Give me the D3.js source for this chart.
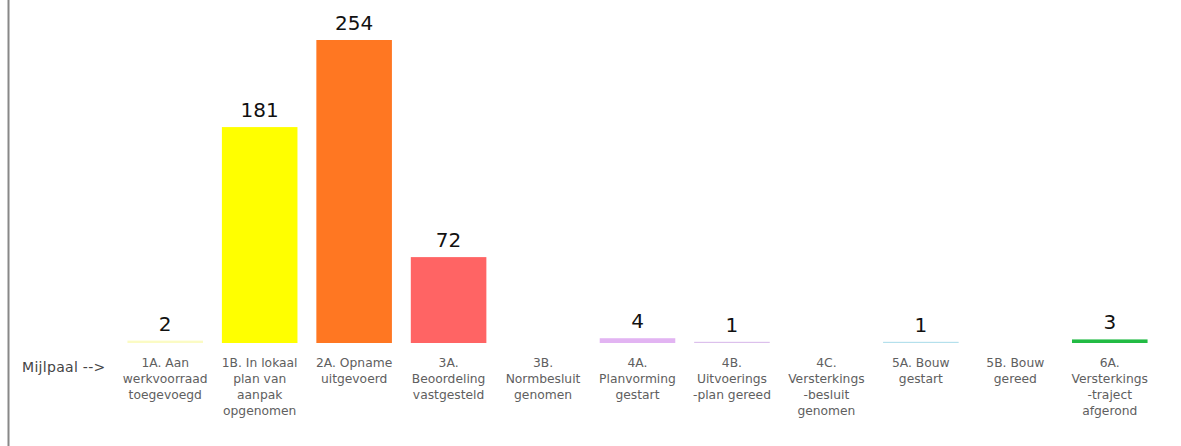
<!DOCTYPE html>
<html>
<head>
<meta charset="utf-8">
<script src="https://cdn.jsdelivr.net/npm/d3@7"></script>
<style>
  body { margin: 0; background: #fff; }
</style>
</head>
<body>
<script>
// milestones and counts
var categories = ["1A", "1B", "2A", "3A", "3B", "4A", "4B", "4C", "5A", "5B", "6A"];
var labels = [
    "1A. Aan\nwerkvoorraad\ntoegevoegd",
    "1B. In lokaal\nplan van\naanpak\nopgenomen",
    "2A. Opname\nuitgevoerd",
    "3A.\nBeoordeling\nvastgesteld",
    "3B.\nNormbesluit\ngenomen",
    "4A.\nPlanvorming\ngestart",
    "4B.\nUitvoerings\n-plan gereed",
    "4C.\nVersterkings\n-besluit\ngenomen",
    "5A. Bouw\ngestart",
    "5B. Bouw\ngereed",
    "6A.\nVersterkings\n-traject\nafgerond"
];
var values = [2, 181, 254, 72, 0, 4, 1, 0, 1, 0, 3];
var colors = ["#fbfbc4", "#ffff00", "#ff7722", "#ff6464", "#cccccc", "#e2b4f2",
              "#dcc0ec", "#cccccc", "#b4e0ec", "#cccccc", "#22bb44"];

var width = 1181,
    height = 446;

var svg = d3.select("body").append("svg")
    .attr("width", width)
    .attr("height", height);

// left frame line
svg.append("line")
    .attr("x1", 8.5).attr("x2", 8.5)
    .attr("y1", 0).attr("y2", height)
    .style("stroke", "#888")
    .style("stroke-width", 2);

var x = d3.scaleBand()
    .domain(categories)
    .range([118, 1157])
    .paddingInner(0.2)
    .paddingOuter(0.1);

var y = d3.scaleLinear()
    .domain([0, 254])
    .range([343, 40]);

var data = categories.map(function(c, i) {
    return {cat: c, label: labels[i], value: values[i], color: colors[i]};
});

// bars
svg.append("g").selectAll("rect")
    .data(data.filter(function(d) { return d.value > 0; }))
    .join("rect")
    .attr("x", function(d) { return x(d.cat); })
    .attr("y", function(d) { return y(d.value); })
    .attr("width", x.bandwidth())
    .attr("height", function(d) { return y(0) - y(d.value); })
    .style("fill", function(d) { return d.color; });

// value labels
svg.append("g").selectAll("text")
    .data(data.filter(function(d) { return d.value > 0; }))
    .join("text")
    .attr("x", function(d) { return x(d.cat) + x.bandwidth() / 2; })
    .attr("y", function(d) { return y(d.value) - 10; })
    .attr("text-anchor", "middle")
    .attr("font-family", "DejaVu Sans, Verdana, sans-serif")
    .attr("font-size", "20px")
    .attr("fill", "#111")
    .text(function(d) { return d.value; });

// category labels
var cat = svg.append("g").selectAll("text")
    .data(data)
    .join("text")
    .attr("text-anchor", "middle")
    .attr("font-family", "DejaVu Sans, Verdana, sans-serif")
    .attr("font-size", "12.3px")
    .attr("fill", "#606060");

cat.selectAll("tspan")
    .data(function(d) {
        return d.label.split("\n").map(function(t) { return {t: t, cx: x(d.cat) + x.bandwidth() / 2}; });
    })
    .join("tspan")
    .attr("x", function(d) { return d.cx; })
    .attr("y", function(d, i) { return 367 + i * 16; })
    .text(function(d) { return d.t; });

svg.append("text")
    .attr("x", 22)
    .attr("y", 372)
    .attr("font-family", "DejaVu Sans, Verdana, sans-serif")
    .attr("font-size", "14px")
    .attr("letter-spacing", "0.3px")
    .attr("fill", "#444")
    .text("Mijlpaal -->");
</script>
</body>
</html>
